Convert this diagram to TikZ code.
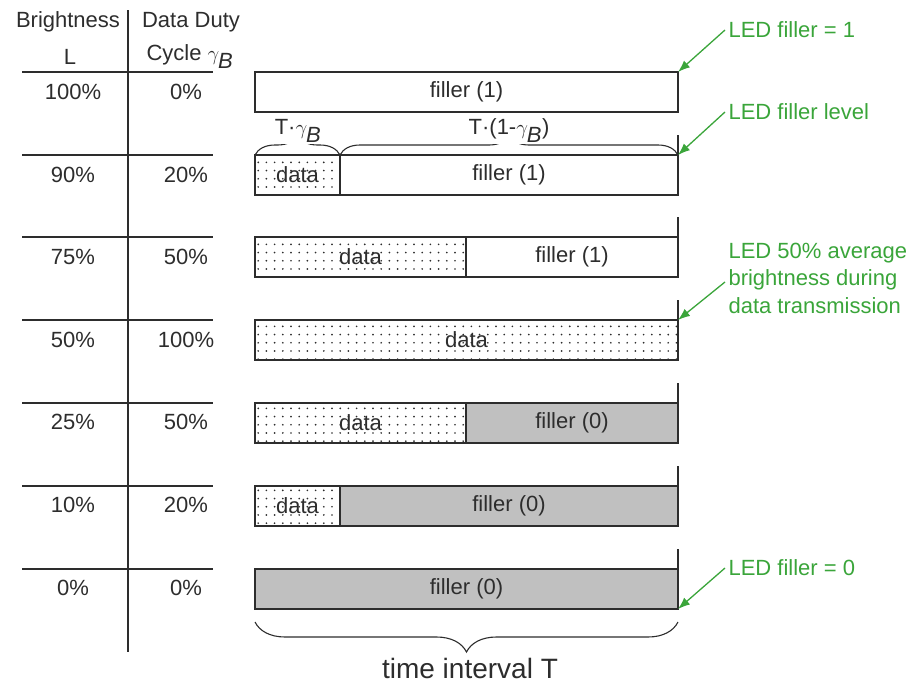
\documentclass[tikz,border=0pt]{standalone}
\usepackage{fontspec}
\setmainfont{Liberation Sans}
\usetikzlibrary{positioning, arrows.meta, patterns, decorations.pathreplacing}

\definecolor{ink}{RGB}{45,45,45}
\definecolor{ledgreen}{RGB}{58,165,58}
\definecolor{offgray}{RGB}{192,192,192}

\pgfdeclarepatternformonly{sparsedots}{\pgfqpoint{-1pt}{-1pt}}{\pgfqpoint{9pt}{9pt}}{\pgfqpoint{8.2pt}{8.2pt}}%
  {\pgfpathcircle{\pgfqpoint{4pt}{4pt}}{0.95pt}\pgfusepath{fill}}

\tikzset{
  slot/.style={draw=ink, line width=1.4pt, inner sep=0pt, outer sep=0pt,
    minimum height=40pt, anchor=north west, text=ink,
    font=\fontsize{22}{26}\selectfont},
  fillone/.style={slot, fill=white},
  fillzero/.style={slot, fill=offgray},
  datapart/.style={slot, pattern=sparsedots, pattern color=ink},
  cell/.style={text=ink, inner sep=2pt, font=\fontsize{22}{26}\selectfont},
  note/.style={text=ledgreen, anchor=west, align=left,
    font=\fontsize{22}{27.5}\selectfont},
  pointer/.style={draw=ledgreen, line width=1.3pt, -{Latex[length=12pt, width=9pt]}},
  bracer/.style={decorate, decoration={brace, amplitude=#1}, draw=ink, line width=1.1pt},
  tick/.style={draw=ink, line width=1.4pt}
}

\begin{document}
\begin{tikzpicture}[x=1pt, y=-1pt]
  \useasboundingbox (0,0) rectangle (922,683);

  % table on the left
  \draw[ink, line width=2pt] (128,10) -- (128,652);
  \foreach \y in {72,155,237,320,403,486,569}
    \draw[ink, line width=1.3pt] (22,\y) -- (213,\y);

  \node[cell] (hb) at (68,22) {Brightness};
  \node[cell] (hl) at (70,57) {L};
  \node[cell] (hd) at (191,22) {Data Duty};
  \node[cell] (hc) at (190,57) {Cycle $\gamma_{\textit{B}}$};

  \node[cell] (l1) at (73,92) {100\%};  \node[cell] (c1) at (186,92) {0\%};
  \node[cell] (l2) at (73,175) {90\%};  \node[cell] (c2) at (186,175) {20\%};
  \node[cell] (l3) at (73,257) {75\%};  \node[cell] (c3) at (186,257) {50\%};
  \node[cell] (l4) at (73,340) {50\%};  \node[cell] (c4) at (186,340) {100\%};
  \node[cell] (l5) at (73,422) {25\%};  \node[cell] (c5) at (186,422) {50\%};
  \node[cell] (l6) at (73,505) {10\%};  \node[cell] (c6) at (186,505) {20\%};
  \node[cell] (l7) at (73,588) {0\%};   \node[cell] (c7) at (186,588) {0\%};

  % slots
  \node[fillone, minimum width=423pt] (f1) at (255,72) {filler (1)};

  \node[datapart, minimum width=85pt] (d2) at (255,155) {data};
  \node[fillone, minimum width=338pt, right=0pt of d2] (f2) {filler (1)};

  \node[datapart, minimum width=211pt] (d3) at (255,237) {data};
  \node[fillone, minimum width=212pt, right=0pt of d3] (f3) {filler (1)};

  \node[datapart, minimum width=423pt] (d4) at (255,320) {data};

  \node[datapart, minimum width=211pt] (d5) at (255,403) {data};
  \node[fillzero, minimum width=212pt, right=0pt of d5] (f5) {filler (0)};

  \node[datapart, minimum width=85pt] (d6) at (255,486) {data};
  \node[fillzero, minimum width=338pt, right=0pt of d6] (f6) {filler (0)};

  \node[fillzero, minimum width=423pt] (f7) at (255,569) {filler (0)};

  % ticks at the end of the interval
  \draw[tick] (f2.north east) -- ++(0,-20);
  \draw[tick] (f3.north east) -- ++(0,-20);
  \draw[tick] (d4.north east) -- ++(0,-20);
  \draw[tick] (f5.north east) -- ++(0,-20);
  \draw[tick] (f6.north east) -- ++(0,-20);
  \draw[tick] (f7.north east) -- ++(0,-20);

  % braces
  \draw[bracer=20pt] (d2.north west) -- (d2.north east);
  \draw[bracer=20pt] (f2.north west) -- (f2.north east);
  \node[cell, fill=white, inner sep=1pt] (tg) at (298,131) {T·$\gamma_{\textit{B}}$};
  \node[cell, fill=white, inner sep=1pt] (tr) at (509,131) {T·(1-$\gamma_{\textit{B}}$)};

  \draw[bracer=30pt] ([yshift=-13pt]f7.south east) -- ([yshift=-13pt]f7.south west);
  \node[text=ink, font=\fontsize{28}{32}\selectfont] (ti) at (470,668) {time interval T};

  % green notes
  \node[note] (n1) at (725,30) {LED filler = 1};
  \node[note] (n2) at (725,112) {LED filler level};
  \node[note] (n3) at (725,278) {LED 50\% average\\brightness during\\data transmission};
  \node[note] (n4) at (725,568) {LED filler = 0};

  \draw[pointer] (n1.west) -- (f1.north east);
  \draw[pointer] (n2.west) -- (f2.north east);
  \draw[pointer] ([yshift=-4pt]n3.west) -- (d4.north east);
  \draw[pointer] (n4.west) -- (f7.south east);
\end{tikzpicture}
\end{document}
